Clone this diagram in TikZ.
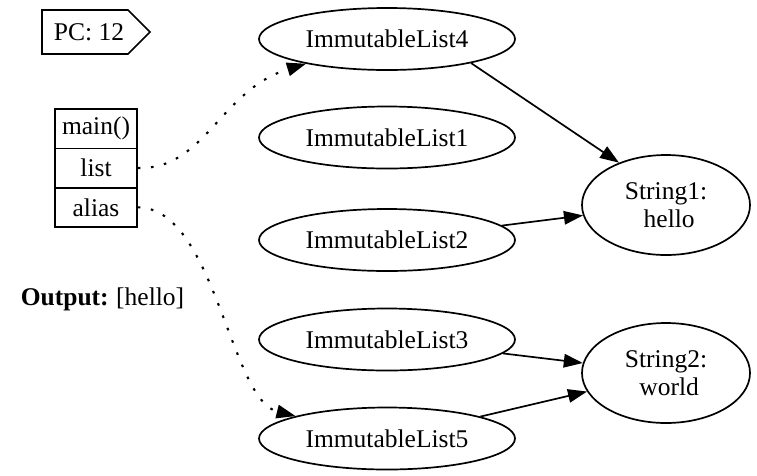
\documentclass[tikz,border=0pt]{standalone}
\usepackage{fontspec}
\setmainfont{Liberation Serif}
\usetikzlibrary{shapes.geometric,arrows.meta}
\begin{document}
\begin{tikzpicture}[x=1pt,y=-1pt, line width=1.7pt,
  font=\fontsize{25.5}{28}\selectfont,
  obj/.style={draw, ellipse, minimum width=256pt, minimum height=62pt, inner sep=0pt},
  str/.style={draw, ellipse, minimum width=168pt, minimum height=100pt, inner sep=0pt, align=center},
  cell/.style={draw, rectangle, minimum width=82pt, minimum height=39.3pt, inner sep=0pt},
  ref/.style={-{Triangle[length=19pt,width=13.5pt]}},
  ptr/.style={ref, line width=2.1pt, dash pattern=on 2.6pt off 10.6pt}]
\useasboundingbox (0,0) rectangle (757,475);
% program counter
\draw (42,10) -- (128,10) -- (150,32) -- (128,54) -- (42,54) -- cycle;
\node (pc) at (89,32) {PC: 12};
% stack frame
\node[cell] (main) at (96,128.7) {main()};
\node[cell] (list) at (96,168) {list};
\node[cell] (alias) at (96,207.3) {alias};
% output
\node[anchor=base west, inner sep=0pt] (out) at (20,305) {\textbf{Output:}\hspace{-1pt} [hello]};
% heap objects
\node[obj] (il4) at (387,39) {ImmutableList4};
\node[obj] (il1) at (387,137.5) {ImmutableList1};
\node[obj] (il2) at (387,240) {ImmutableList2};
\node[obj] (il3) at (387,339.5) {ImmutableList3};
\node[obj] (il5) at (387,438.5) {ImmutableList5};
\node[str] (s1) at (666,205) {String1:\\\hspace*{0.25em}hello};
\node[str] (s2) at (666,373) {String2:\\\hspace*{0.25em}world};
% references
\draw[ptr] (list.east) .. controls (205,170) and (220,90) .. (il4);
\draw[ptr] (alias.east) .. controls (215,208) and (230,400) .. (il5);
\draw[ref] (il4.-16) -- (s1.138);
\draw[ref] (il2) -- (s1);
\draw[ref] (il3) -- (s2);
\draw[ref] (il5) -- (s2);
\end{tikzpicture}
\end{document}
